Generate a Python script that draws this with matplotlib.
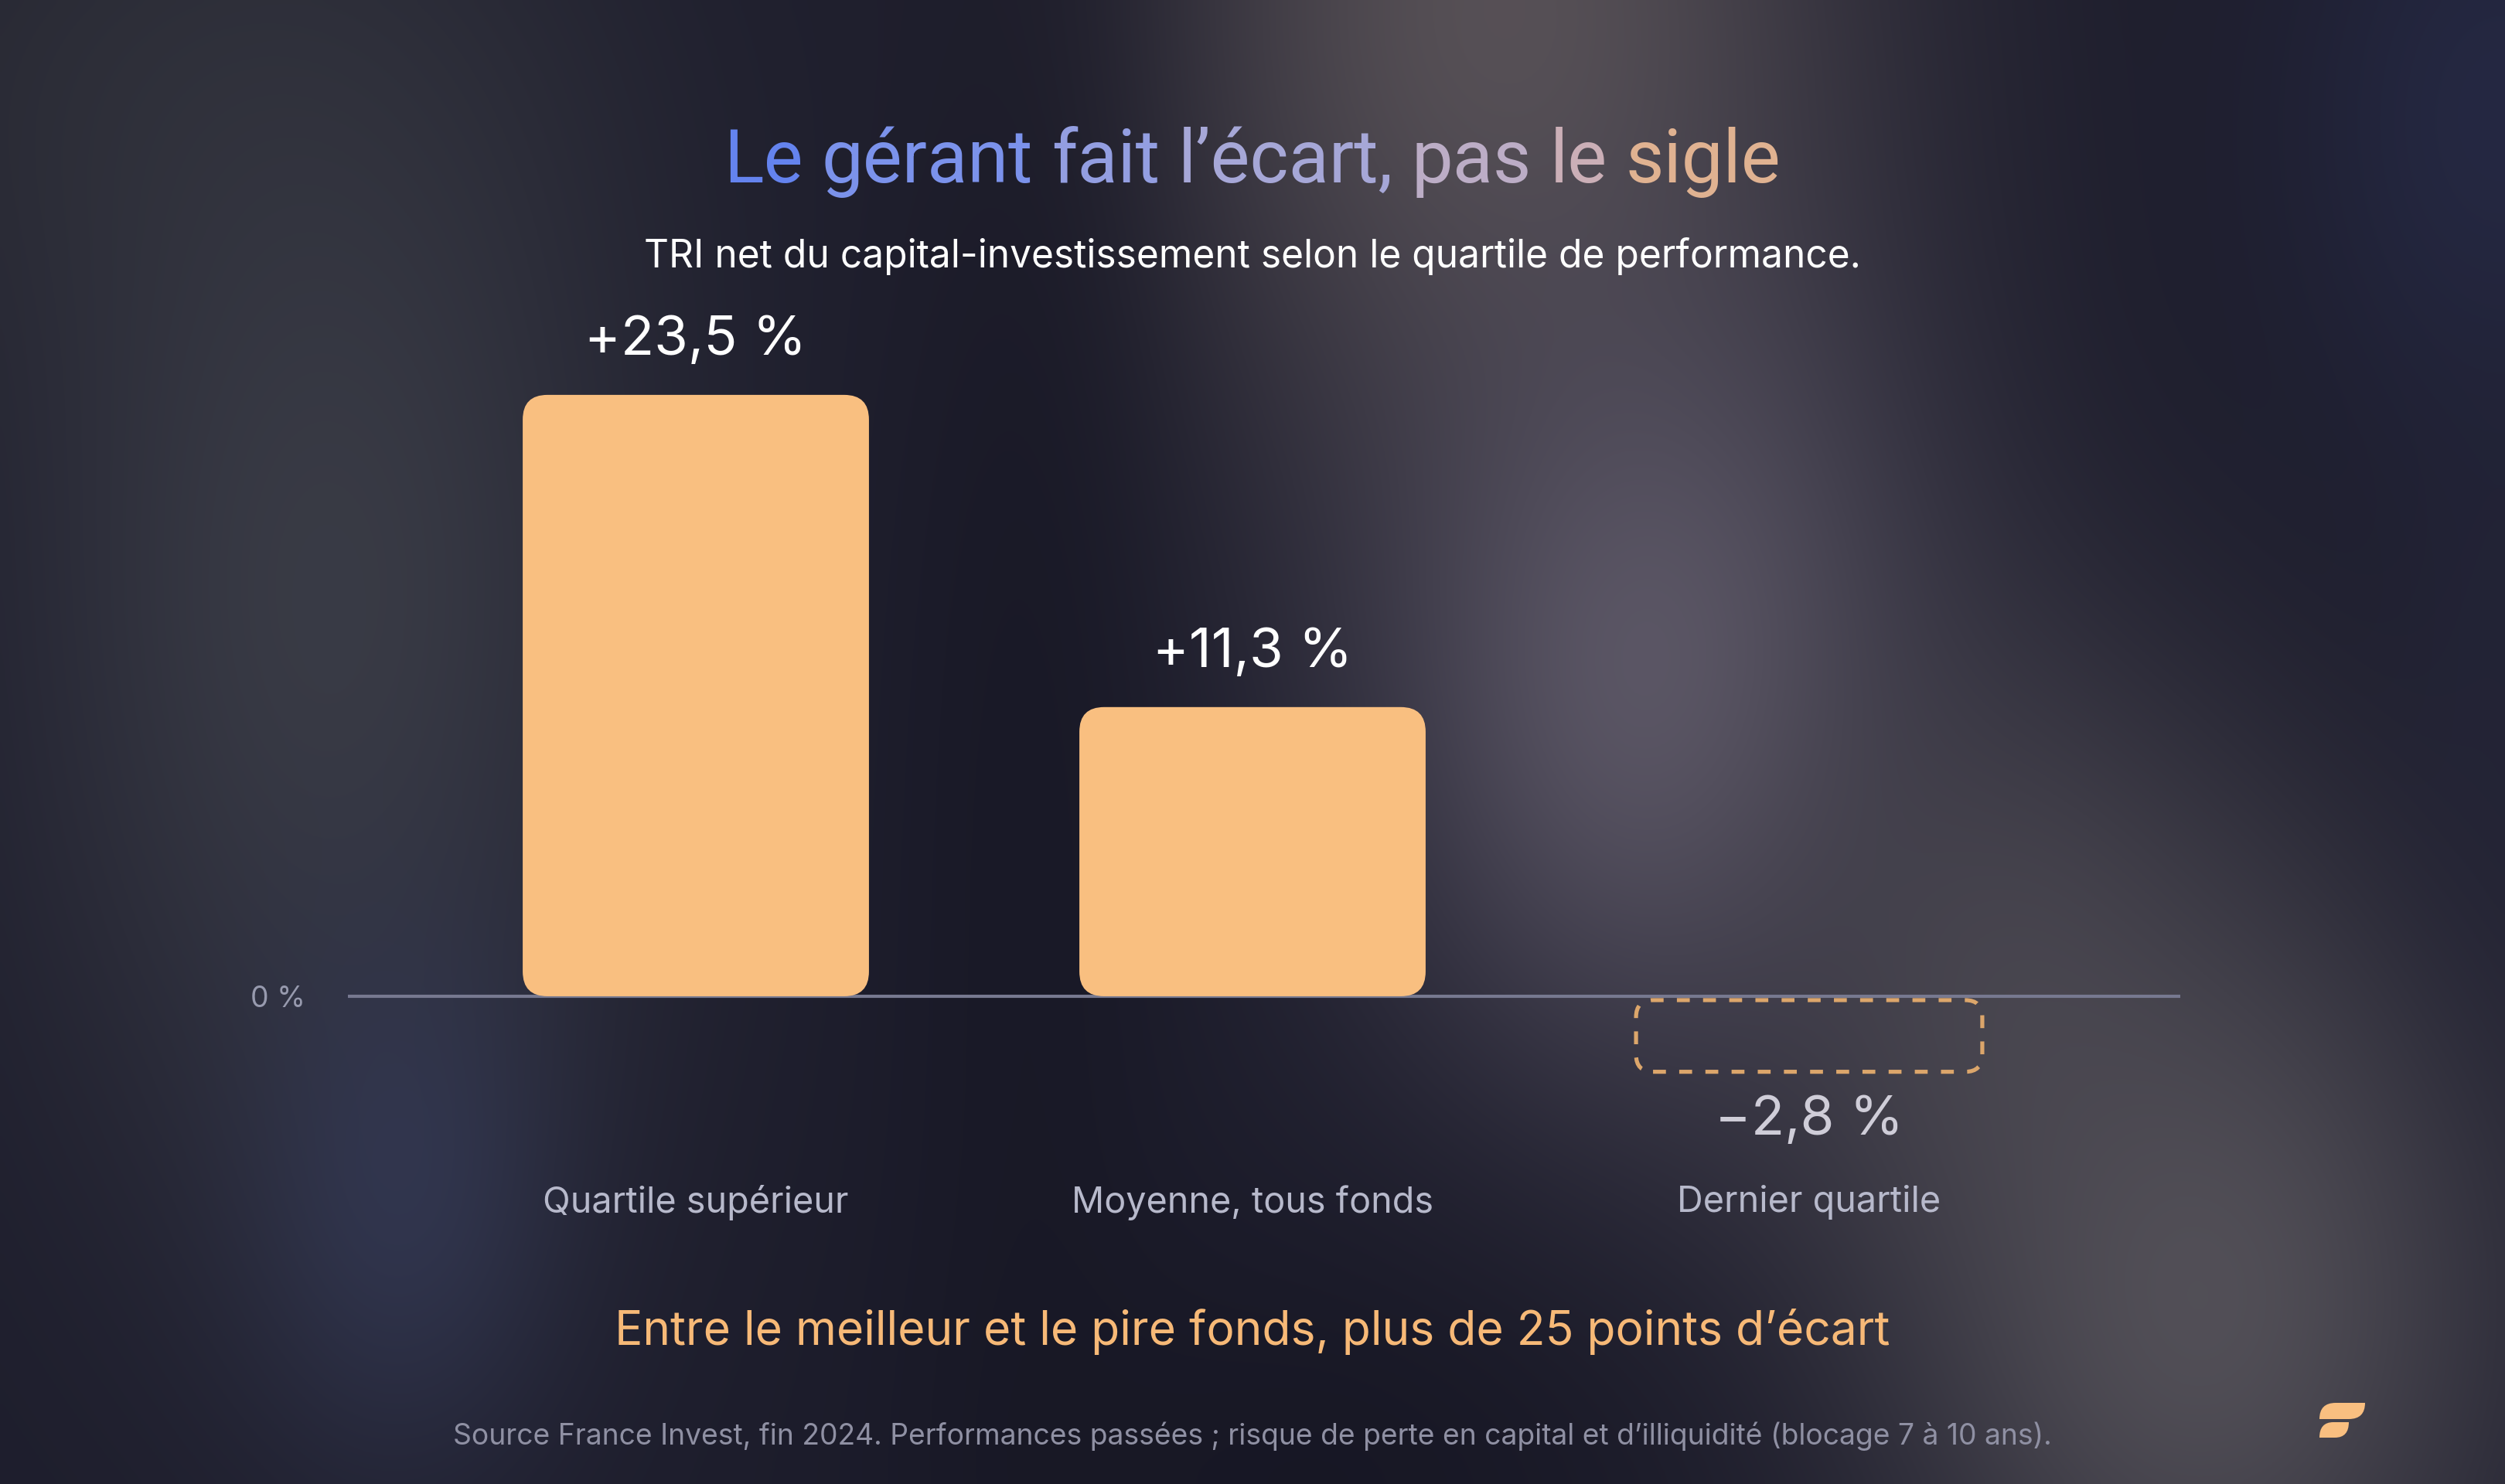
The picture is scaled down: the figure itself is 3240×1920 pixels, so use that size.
import numpy as np
import matplotlib
matplotlib.use("Agg")
import matplotlib.pyplot as plt
from matplotlib import font_manager as fm
from matplotlib.patches import FancyBboxPatch, PathPatch
from matplotlib.path import Path
from matplotlib.colors import to_rgb, LinearSegmentedColormap

# ---------------- data ----------------
categories = ["Quartile supérieur", "Moyenne, tous fonds", "Dernier quartile"]
values = [23.5, 11.3, -2.8]
value_labels = ["+23,5 %", "+11,3 %", "\u22122,8 %"]
zero_tick_label = "0 %"
title_words = ["Le", "gérant", "fait", "l\u2019écart,", "pas", "le", "sigle"]
subtitle = "TRI net du capital-investissement selon le quartile de performance."
takeaway = "Entre le meilleur et le pire fonds, plus de 25 points d\u2019écart"
source = ("Source France Invest, fin 2024. Performances passées ; risque de perte "
          "en capital et d\u2019illiquidité (blocage 7 à 10 ans).")

# ---------------- style ----------------
W_PX, H_PX, DPI = 3240, 1920, 300
PT = 72.0 / DPI
avail = {f.name for f in fm.fontManager.ttflist}
REG = "Inter" if "Inter" in avail else "DejaVu Sans"
TITLEF = "Roboto" if "Roboto" in avail else REG
COND = REG

BASE = "#1d1d2c"
BAR = "#f9bf80"
DASH = "#dca66b"
AXIS = "#777990"
WHITE = "#ffffff"
NEG_LBL = "#cfcdd8"
CAT = "#b7b9cb"
ZERO = "#979aae"
TAKE = "#f7b977"
FOOT = "#8f90a3"

fig = plt.figure(figsize=(W_PX / DPI, H_PX / DPI), dpi=DPI)
fig.patch.set_facecolor(BASE)


def fx(px):
    return px / W_PX


def fy(py):
    return 1 - py / H_PX


# ---------------- background glow ----------------
bg = fig.add_axes([0, 0, 1, 1], zorder=0)
H, W = 240, 405
yy, xx = np.mgrid[0:H, 0:W]
gx = xx / (W - 1)
gy = yy / (H - 1)
img = np.ones((H, W, 3)) * np.array(to_rgb(BASE))
blobs = [
    # cx, cy, sx, sy, color, alpha
    (0.05, 0.05, 0.12, 0.15, "#2b2c35", 0.8),
    (0.13, 0.40, 0.09, 0.30, "#3c3e48", 0.90),
    (0.16, 0.80, 0.045, 0.13, "#353b58", 0.70),
    (0.60, 0.00, 0.10, 0.22, "#5c5559", 0.90),
    (0.66, 0.45, 0.08, 0.20, "#5e5968", 0.95),
    (0.80, 0.65, 0.07, 0.16, "#4c4952", 0.70),
    (0.88, 0.88, 0.09, 0.20, "#57545b", 0.90),
    (1.00, 0.08, 0.06, 0.16, "#262a46", 0.85),
    (1.00, 0.45, 0.03, 0.15, "#25263a", 0.60),
    (0.41, 0.55, 0.04, 0.60, "#171724", 0.65),
    (0.53, 1.00, 0.10, 0.12, "#141420", 0.60),
]
for cx, cy, sx, sy, col, a in blobs:
    g = a * np.exp(-(((gx - cx) / sx) ** 2 + ((gy - cy) / sy) ** 2) / 2)
    img = img * (1 - g[..., None]) + np.array(to_rgb(col)) * g[..., None]
bg.imshow(img, extent=[0, 1, 0, 1], origin="upper", aspect="auto",
          interpolation="bicubic")
bg.set_axis_off()

# ---------------- chart axes ----------------
ax_left, ax_right, ax_top, ax_bottom = 450, 2820, 395, 1454.5
ax = fig.add_axes([fx(ax_left), fy(ax_bottom), (ax_right - ax_left) / W_PX,
                   (ax_bottom - ax_top) / H_PX], zorder=2)
ax.patch.set_alpha(0)
ax.set_xlim(-0.625, -0.625 + (ax_right - ax_left) / 720.0)
ax.set_ylim(-5, 27)
for s in ax.spines.values():
    s.set_visible(False)
ax.set_xticks([])
ax.set_yticks([0])
ax.set_yticklabels([zero_tick_label], fontsize=9.5, color=ZERO, family=REG)
ax.tick_params(axis="y", length=0, pad=55 * PT)
ax.axhline(0, color=AXIS, lw=1.0, zorder=1)

xpos = np.arange(len(categories))
rects = ax.bar(xpos, values, width=0.622, color=BAR, zorder=2)

p0 = ax.transData.transform((0, 0))
p1 = ax.transData.transform((1, 1))
ux, uy = p1[0] - p0[0], p1[1] - p0[1]
aspect = ux / uy

for rect, v in zip(rects, values):
    x, y, w, h = rect.get_x(), rect.get_y(), rect.get_width(), rect.get_height()
    y0, hh = min(y, y + h), abs(h)
    rect.set_visible(False)
    if v >= 0:
        r = 32 / ux
        patch = FancyBboxPatch((x, y0), w, hh,
                               boxstyle=f"round,pad=0,rounding_size={r}",
                               mutation_aspect=aspect, fc=BAR, ec="none",
                               zorder=2)
    else:
        r = 22 / ux
        gap = 5 / uy
        patch = FancyBboxPatch((x, y0 - gap), w, hh,
                               boxstyle=f"round,pad=0,rounding_size={r}",
                               mutation_aspect=aspect, fill=False, ec=DASH,
                               lw=1.25, linestyle=(0, (3.2, 3.3)), zorder=2)
    ax.add_patch(patch)

val_texts = []
for xi, v, lab in zip(xpos, values, value_labels):
    if v >= 0:
        t = ax.annotate(lab, (xi, v), xytext=(0, 70 * PT), textcoords="offset points",
                        ha="center", va="center", color=WHITE, fontsize=18,
                        family=REG)
    else:
        t = ax.annotate(lab, (xi, v), xytext=(0, -68 * PT), textcoords="offset points",
                        ha="center", va="center", color=NEG_LBL, fontsize=18,
                        family=REG)
    val_texts.append(t)

cat_texts = []
for xi, c in zip(xpos, categories):
    t = ax.annotate(c, (xi, 0), xytext=(0, -267 * PT), textcoords="offset points",
                    ha="center", va="center", color=CAT, fontsize=10, family=COND)
    cat_texts.append(t)

# ---------------- other texts ----------------
sub_t = fig.text(0.5, fy(331), subtitle, ha="center", va="center", color=WHITE,
                 fontsize=10.5, family=REG)
take_t = fig.text(0.5, fy(1723), takeaway, ha="center", va="center", color=TAKE,
                  fontsize=13, family=COND)
foot_t = fig.text(0.5, fy(1858), source, ha="center", va="center", color=FOOT,
                  fontsize=7, family=REG)

fig.canvas.draw()
renderer = fig.canvas.get_renderer()


def width(t):
    return t.get_window_extent(renderer).width


def fit(texts, target):
    for _ in range(2):
        w = width(texts[0])
        s = texts[0].get_fontsize() * target / w
        for t in texts:
            t.set_fontsize(s)
        fig.canvas.draw()


fit(val_texts, 287)
fit(cat_texts, 395)
fit([sub_t], 1574)
fit([take_t], 1649)
fit([foot_t], 2070)
fit(ax.get_yticklabels(), 71)

# ---------------- title with gradient words ----------------
grad = LinearSegmentedColormap.from_list(
    "title", ["#5f80ef", "#7c93eb", "#98a1df", "#adaad3", "#c9afbb", "#ecb37a"])
title_y = fy(236)


def space_width(size):
    p1_ = fig.text(0, 0, "x x", fontsize=size, family=TITLEF)
    p2_ = fig.text(0, 0, "xx", fontsize=size, family=TITLEF)
    fig.canvas.draw()
    s = width(p1_) - width(p2_)
    p1_.remove()
    p2_.remove()
    return s


tws = [fig.text(0, title_y, w, fontsize=20, family=TITLEF, ha="left",
                va="baseline") for w in title_words]
size = 20.0
for _ in range(3):
    for t in tws:
        t.set_fontsize(size)
    sp = space_width(size)
    ws = [width(t) for t in tws]
    total = sum(ws) + sp * (len(tws) - 1)
    size = size * 1368 / total
for t in tws:
    t.set_fontsize(size)
sp = space_width(size)
ws = [width(t) for t in tws]
total = sum(ws) + sp * (len(tws) - 1)
xcur = 1620 - total / 2
left = xcur
for t, w in zip(tws, ws):
    t.set_x(fx(xcur))
    t.set_color(grad((xcur + w / 2 - left) / total))
    xcur += w + sp


# ---------------- logo ----------------
def leaf(bl, tl, tr, br):
    verts = [bl, (bl[0], tl[1]), tl, tr, (tr[0], br[1]), br, bl]
    codes = [Path.MOVETO, Path.CURVE3, Path.CURVE3, Path.LINETO,
             Path.CURVE3, Path.CURVE3, Path.CLOSEPOLY]
    verts = [(fx(a), fy(b)) for a, b in verts]
    return Path(verts, codes)


for p in [leaf((3000, 1836), (3021, 1815), (3059, 1815), (3038, 1836)),
          leaf((3000, 1860), (3018, 1840), (3038, 1840), (3020, 1860))]:
    fig.add_artist(PathPatch(p, transform=fig.transFigure, fc=BAR, ec="none",
                             zorder=3))

fig.savefig("out.png", dpi=DPI, facecolor=fig.get_facecolor())
